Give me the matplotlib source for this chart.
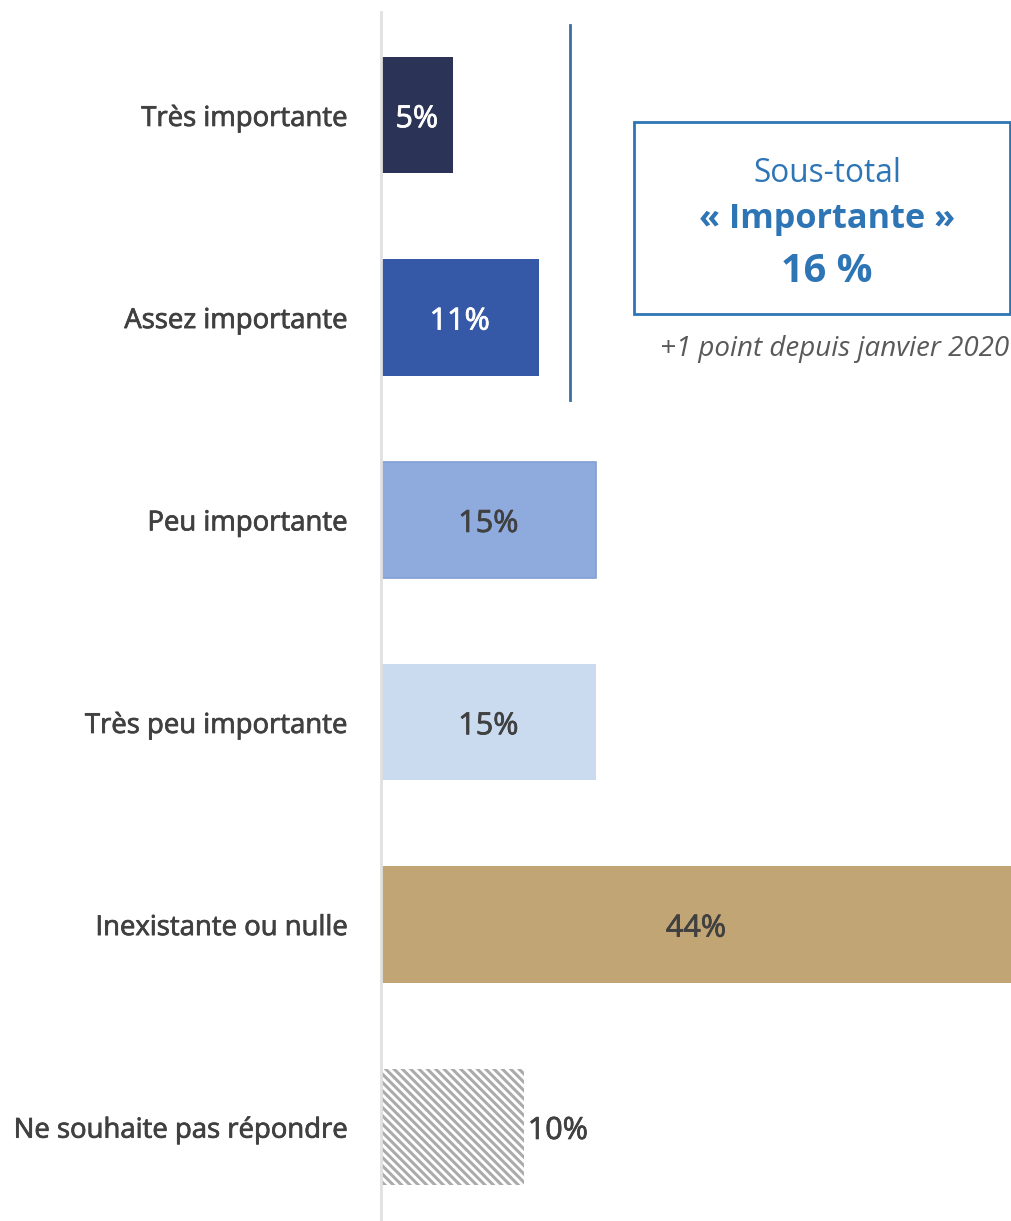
import matplotlib.pyplot as plt
import matplotlib.patheffects as pe

plt.rcParams['font.family'] = ['Open Sans', 'DejaVu Sans']
plt.rcParams['hatch.linewidth'] = 2.2

categories = ['Très importante', 'Assez importante', 'Peu importante',
              'Très peu importante', 'Inexistante ou nulle', 'Ne souhaite pas répondre']
values = [5, 11, 15, 15, 44, 10]
labels = ['5%', '11%', '15%', '15%', '44%', '10%']
colors = ['#2B3457', '#3559A6', '#8FAADC', '#CADBF0', '#C1A574', 'white']
text_colors = ['white', 'white', '#404040', '#404040', '#404040', '#404040']


def thick(c, w=0.55):
    return [pe.withStroke(linewidth=w, foreground=c)]


fig = plt.figure(figsize=(10.11, 12.21), dpi=100)
ax = fig.add_axes([381 / 1011, 0, 1 - 381 / 1011, 1 - 12 / 1221])

ypos = list(range(len(categories)))
bars = ax.barh(ypos, values, height=0.575, color=colors)
bars[2].set_edgecolor('#7F9ED6')
bars[2].set_linewidth(1.2)
bars[5].set_hatch('\\\\\\\\')
bars[5].set_edgecolor('#ABABAB')
bars[5].set_linewidth(0)

for i, (v, lab) in enumerate(zip(values, labels)):
    if i == 5:
        ax.text(v + 0.25, i + 0.02, lab, ha='left', va='center', fontsize=22,
                color=text_colors[i], path_effects=thick(text_colors[i]))
    else:
        ax.text(v / 2, i + 0.02, lab, ha='center', va='center', fontsize=22,
                color=text_colors[i], path_effects=thick(text_colors[i]))

ax.set_xlim(0, 44)
ax.set_ylim(5.465, -0.51)
ax.set_yticks(ypos)
ax.set_yticklabels(categories, fontsize=19.8, color='#404040')
for t in ax.get_yticklabels():
    t.set_path_effects(thick('#404040'))
ax.tick_params(axis='y', length=0, pad=24)
ax.set_xticks([])
for s in ['top', 'right', 'bottom']:
    ax.spines[s].set_visible(False)
ax.spines['left'].set_color('#E0E0E0')
ax.spines['left'].set_linewidth(2)

# bracket line and subtotal box
blue = '#2E75B6'
fig.add_artist(plt.Line2D([570 / 1011, 570 / 1011], [1 - 25 / 1221, 1 - 400 / 1221],
                          color='#3A6EA5', lw=2))
fig.add_artist(plt.Rectangle((634 / 1011, 1 - 314 / 1221), (1010 - 634) / 1011, 192 / 1221,
                             fill=False, edgecolor=blue, lw=2))
fig.text(827 / 1011, 1 - 173 / 1221, 'Sous-total', ha='center', va='center',
         fontsize=22.7, color=blue)
fig.text(827 / 1011, 1 - 219 / 1221, '« Importante »', ha='center', va='center',
         fontsize=24.7, fontweight='bold', color=blue)
fig.text(827 / 1011, 1 - 271 / 1221, '16 %', ha='center', va='center',
         fontsize=28.6, fontweight='bold', color=blue)
fig.text(1009 / 1011, 1 - 349 / 1221, '+1 point depuis janvier 2020', ha='right', va='center',
         fontsize=20, style='italic', color='#595959')

fig.savefig('out.png')
